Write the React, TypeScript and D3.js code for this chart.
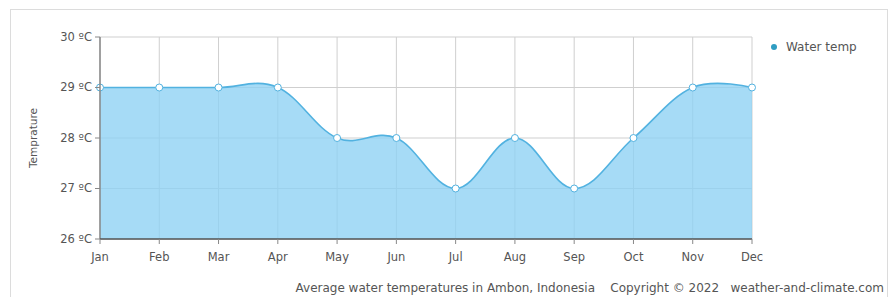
import { useMemo } from "react";
import * as d3 from "d3";

const WIDTH = 889;
const HEIGHT = 297;
const MARGIN = { top: 37, right: 137, bottom: 58, left: 100 };

const MONTHS = ["Jan", "Feb", "Mar", "Apr", "May", "Jun", "Jul", "Aug", "Sep", "Oct", "Nov", "Dec"];
const WATER_TEMP = [29, 29, 29, 29, 28, 28, 27, 28, 27, 28, 29, 29];
const Y_TICKS = [26, 27, 28, 29, 30];

const FILL = "#8dd1f4";
const LINE = "#52b2e0";
const FONT = "'DejaVu Sans', Verdana, sans-serif";

export default function App() {
    const boundsWidth = WIDTH - MARGIN.left - MARGIN.right;
    const boundsHeight = HEIGHT - MARGIN.top - MARGIN.bottom;

    const xScale = useMemo(
        () => d3.scalePoint<string>().domain(MONTHS).range([0, boundsWidth]),
        [boundsWidth]
    );
    const yScale = useMemo(
        () => d3.scaleLinear().domain([26, 30]).range([boundsHeight, 0]),
        [boundsHeight]
    );

    const curve = d3.curveCardinal.tension(-0.1);

    const areaPath = d3
        .area<number>()
        .x((_, i) => xScale(MONTHS[i])!)
        .y0(boundsHeight)
        .y1((d) => yScale(d))
        .curve(curve)(WATER_TEMP);

    const linePath = d3
        .line<number>()
        .x((_, i) => xScale(MONTHS[i])!)
        .y((d) => yScale(d))
        .curve(curve)(WATER_TEMP);

    return (
        <svg width={WIDTH} height={HEIGHT} style={{ position: "absolute", left: 0, top: 0 }}>
            <rect x={10.5} y={9.5} width={877} height={300} fill="#fff" stroke="#dcdcdc" />
            <g transform={`translate(${MARGIN.left},${MARGIN.top})`}>
                {/* grid */}
                {MONTHS.map((m) => (
                    <line key={m} x1={xScale(m)} x2={xScale(m)} y1={0} y2={boundsHeight} stroke="#cfcfcf" />
                ))}
                {Y_TICKS.map((t) => (
                    <line key={t} x1={0} x2={boundsWidth} y1={yScale(t)} y2={yScale(t)} stroke="#cfcfcf" />
                ))}
                <path d={areaPath ?? ""} fill={FILL} fillOpacity={0.78} />
                <path d={linePath ?? ""} fill="none" stroke={LINE} strokeWidth={1.6} />
                {WATER_TEMP.map((d, i) => (
                    <circle key={i} cx={xScale(MONTHS[i])} cy={yScale(d)} r={3.5} fill="#fff" stroke={LINE} strokeWidth={1} />
                ))}

                {/* y axis */}
                <line x1={0} x2={0} y1={0} y2={boundsHeight} stroke="#888" strokeWidth={1.5} />
                {Y_TICKS.map((t) => (
                    <g key={t} transform={`translate(0,${yScale(t)})`}>
                        <line x1={-5} x2={0} stroke="#888" />
                        <text x={-8} dy="0.32em" textAnchor="end" fontSize={11.5} fontFamily={FONT} fill="#555">
                            {`${t} ºC`}
                        </text>
                    </g>
                ))}

                {/* x axis */}
                <line x1={0} x2={boundsWidth} y1={boundsHeight} y2={boundsHeight} stroke="#555" strokeWidth={1.5} />
                {MONTHS.map((m) => (
                    <g key={m} transform={`translate(${xScale(m)},${boundsHeight})`}>
                        <line y1={0} y2={5} stroke="#888" />
                        <text y={22} textAnchor="middle" fontSize={11.5} fontFamily={FONT} fill="#555">
                            {m}
                        </text>
                    </g>
                ))}

                <text
                    transform={`translate(-63,${boundsHeight / 2}) rotate(-90)`}
                    textAnchor="middle"
                    fontSize={10.5}
                    fontFamily={FONT}
                    fill="#555"
                >
                    Temprature
                </text>
            </g>

            {/* legend */}
            <circle cx={774} cy={47} r={3} fill="#2f9dc2" />
            <text x={786} y={51} fontSize={12} fontFamily={FONT} fill="#555">
                Water temp
            </text>

            <text x={884} y={292} textAnchor="end" fontSize={12} fontFamily={FONT} fill="#555" xmlSpace="preserve">
                Average water temperatures in Ambon, Indonesia    Copyright © 2022   weather-and-climate.com
            </text>
        </svg>
    );
}
